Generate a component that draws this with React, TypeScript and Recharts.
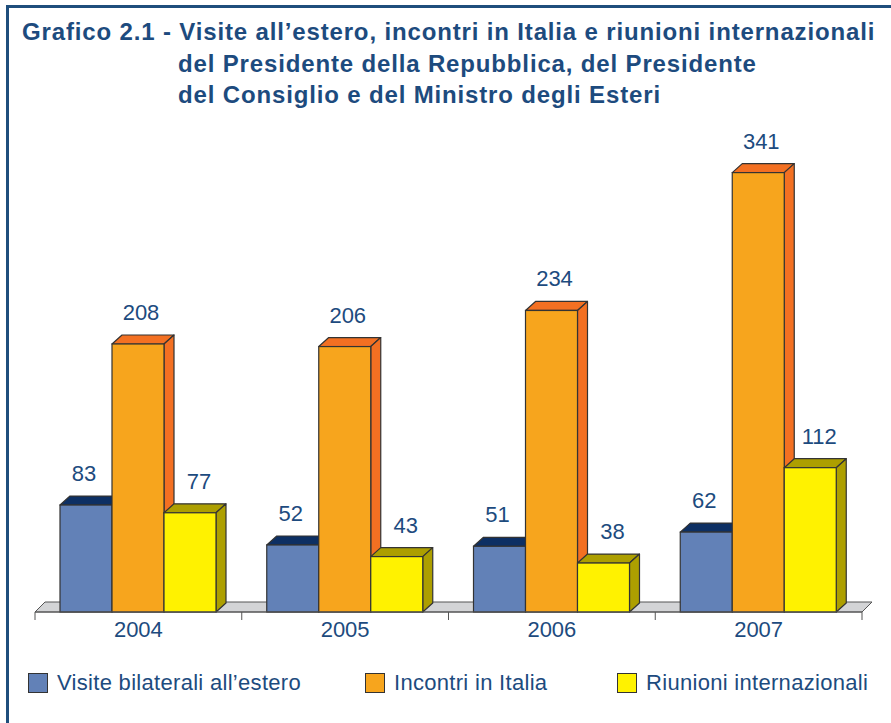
import React from 'react';
import { BarChart, Bar, XAxis, YAxis, LabelList, ReferenceLine } from 'recharts';

// anni sull'asse x
const years = ['2004', '2005', '2006', '2007'];
// valori delle tre serie
const visite = [83, 52, 51, 62];
const incontri = [208, 206, 234, 341];
const riunioni = [77, 43, 38, 112];

const data = years.map((year, i) => ({
    year,
    visite: visite[i],
    incontri: incontri[i],
    riunioni: riunioni[i],
}));

const TEXT = '#1d4b7e';
const EDGE = '#333333';
const FONT = '"Liberation Sans", Arial, sans-serif';
const DX = 10; // 3D depth
const DY = 9;

const SERIES = [
    { key: 'visite', name: 'Visite bilaterali all\u2019estero', front: '#6281b7', top: '#0d2f63', side: '#0d2f63', labelDx: -2 },
    { key: 'incontri', name: 'Incontri in Italia', front: '#f7a51d', top: '#f37022', side: '#f37022', labelDx: 3 },
    { key: 'riunioni', name: 'Riunioni internazionali', front: '#fff200', top: '#ad9f00', side: '#ad9f00', labelDx: 9 },
];

const make3DBar = (front: string, top: string, side: string) => (props: any) => {
    const { x, y, width, height } = props;
    if (height == null || height <= 0) return <g />;
    return (
        <g>
            <polygon
                points={`${x},${y} ${x + DX},${y - DY} ${x + width + DX},${y - DY} ${x + width},${y}`}
                fill={top} stroke={EDGE} strokeWidth={1.2} strokeLinejoin="round"
            />
            <polygon
                points={`${x + width},${y} ${x + width + DX},${y - DY} ${x + width + DX},${y + height - DY} ${x + width},${y + height}`}
                fill={side} stroke={EDGE} strokeWidth={1.2} strokeLinejoin="round"
            />
            <rect x={x} y={y} width={width} height={height} fill={front} stroke={EDGE} strokeWidth={1.2} />
        </g>
    );
};

const makeLabel = (dx: number) => (props: any) => {
    const { x, y, width, value } = props;
    return (
        <text x={x + width / 2 + dx} y={y - 24} textAnchor="middle" fill={TEXT} fontSize={22} fontFamily={FONT}>
            {value}
        </text>
    );
};

// etichetta dell'anno + tacche ai confini delle categorie
const YearTick = (props: any) => {
    const { x, y, payload } = props;
    const half = payload && payload.offset ? payload.offset : 103.4;
    const isLast = payload && payload.index === years.length - 1;
    return (
        <g>
            <line x1={x - half} y1={y} x2={x - half} y2={y + 8} stroke="#555" />
            {isLast && <line x1={x + half} y1={y} x2={x + half} y2={y + 8} stroke="#555" />}
            <text x={x} y={y + 9} dy="0.71em" textAnchor="middle" fill={TEXT} fontSize={22} fontFamily={FONT}>
                {payload.value}
            </text>
        </g>
    );
};

// gray floor under the bars
const Floor = (props: any) => {
    const { x1, y1, x2 } = props;
    if (x1 == null) return <g />;
    return (
        <polygon
            points={`${x1},${y1} ${x1 + DX},${y1 - DY - 1} ${x2 + DX},${y1 - DY - 1} ${x2},${y1}`}
            fill="#d3d4d6" stroke="#555" strokeWidth={1}
        />
    );
};

const titleLine: React.CSSProperties = {
    position: 'absolute',
    fontFamily: FONT,
    fontWeight: 'bold',
    fontSize: 24,
    letterSpacing: '0.85px',
    color: TEXT,
    whiteSpace: 'nowrap',
    lineHeight: '28px',
};

const App: React.FC = () => {
    return (
        <div style={{ position: 'absolute', left: 0, top: 0, width: 891, height: 723, background: '#fff', overflow: 'hidden' }}>
            {/* cornice */}
            <div style={{ position: 'absolute', left: 6, top: 5, width: 900, height: 740, border: '3px solid #1f4e7c' }} />

            <div style={{ ...titleLine, left: 22, top: 18 }}>
                Grafico 2.1 - Visite all’estero, incontri in Italia e riunioni internazionali
            </div>
            <div style={{ ...titleLine, left: 178, top: 49.5 }}>del Presidente della Repubblica, del Presidente</div>
            <div style={{ ...titleLine, left: 178, top: 81 }}>del Consiglio e del Ministro degli Esteri</div>

            <div style={{ position: 'absolute', left: 0, top: 0 }}>
                <BarChart
                    width={891}
                    height={723}
                    data={data}
                    margin={{ top: 161, right: 29, bottom: 71, left: 35 }}
                    barGap={0}
                    barSize={52}
                >
                    <XAxis
                        dataKey="year"
                        height={40}
                        axisLine={{ stroke: '#555', strokeWidth: 1 }}
                        tickLine={false}
                        tickSize={0}
                        tickMargin={0}
                        tick={<YearTick />}
                        interval={0}
                    />
                    <YAxis hide domain={[0, 350]} />
                    <ReferenceLine y={0} ifOverflow="visible" shape={Floor} {...({ zIndex: -10 } as any)} />
                    {SERIES.map((s) => (
                        <Bar
                            key={s.key}
                            dataKey={s.key}
                            name={s.name}
                            isAnimationActive={false}
                            shape={make3DBar(s.front, s.top, s.side)}
                        >
                            <LabelList dataKey={s.key} content={makeLabel(s.labelDx)} />
                        </Bar>
                    ))}
                </BarChart>
            </div>

            {/* legenda */}
            {SERIES.map((s, i) => {
                const lefts = [28, 365, 617];
                return (
                    <div key={s.key} style={{ position: 'absolute', left: lefts[i], top: 673, display: 'flex', alignItems: 'center' }}>
                        <div style={{ width: 20, height: 20, background: s.front, border: `1.5px solid ${EDGE}`, boxSizing: 'border-box' }} />
                        <span style={{ marginLeft: 9, fontFamily: FONT, fontSize: 22, letterSpacing: '0.3px', color: TEXT, lineHeight: '20px' }}>{s.name}</span>
                    </div>
                );
            })}
        </div>
    );
};

export default App;
